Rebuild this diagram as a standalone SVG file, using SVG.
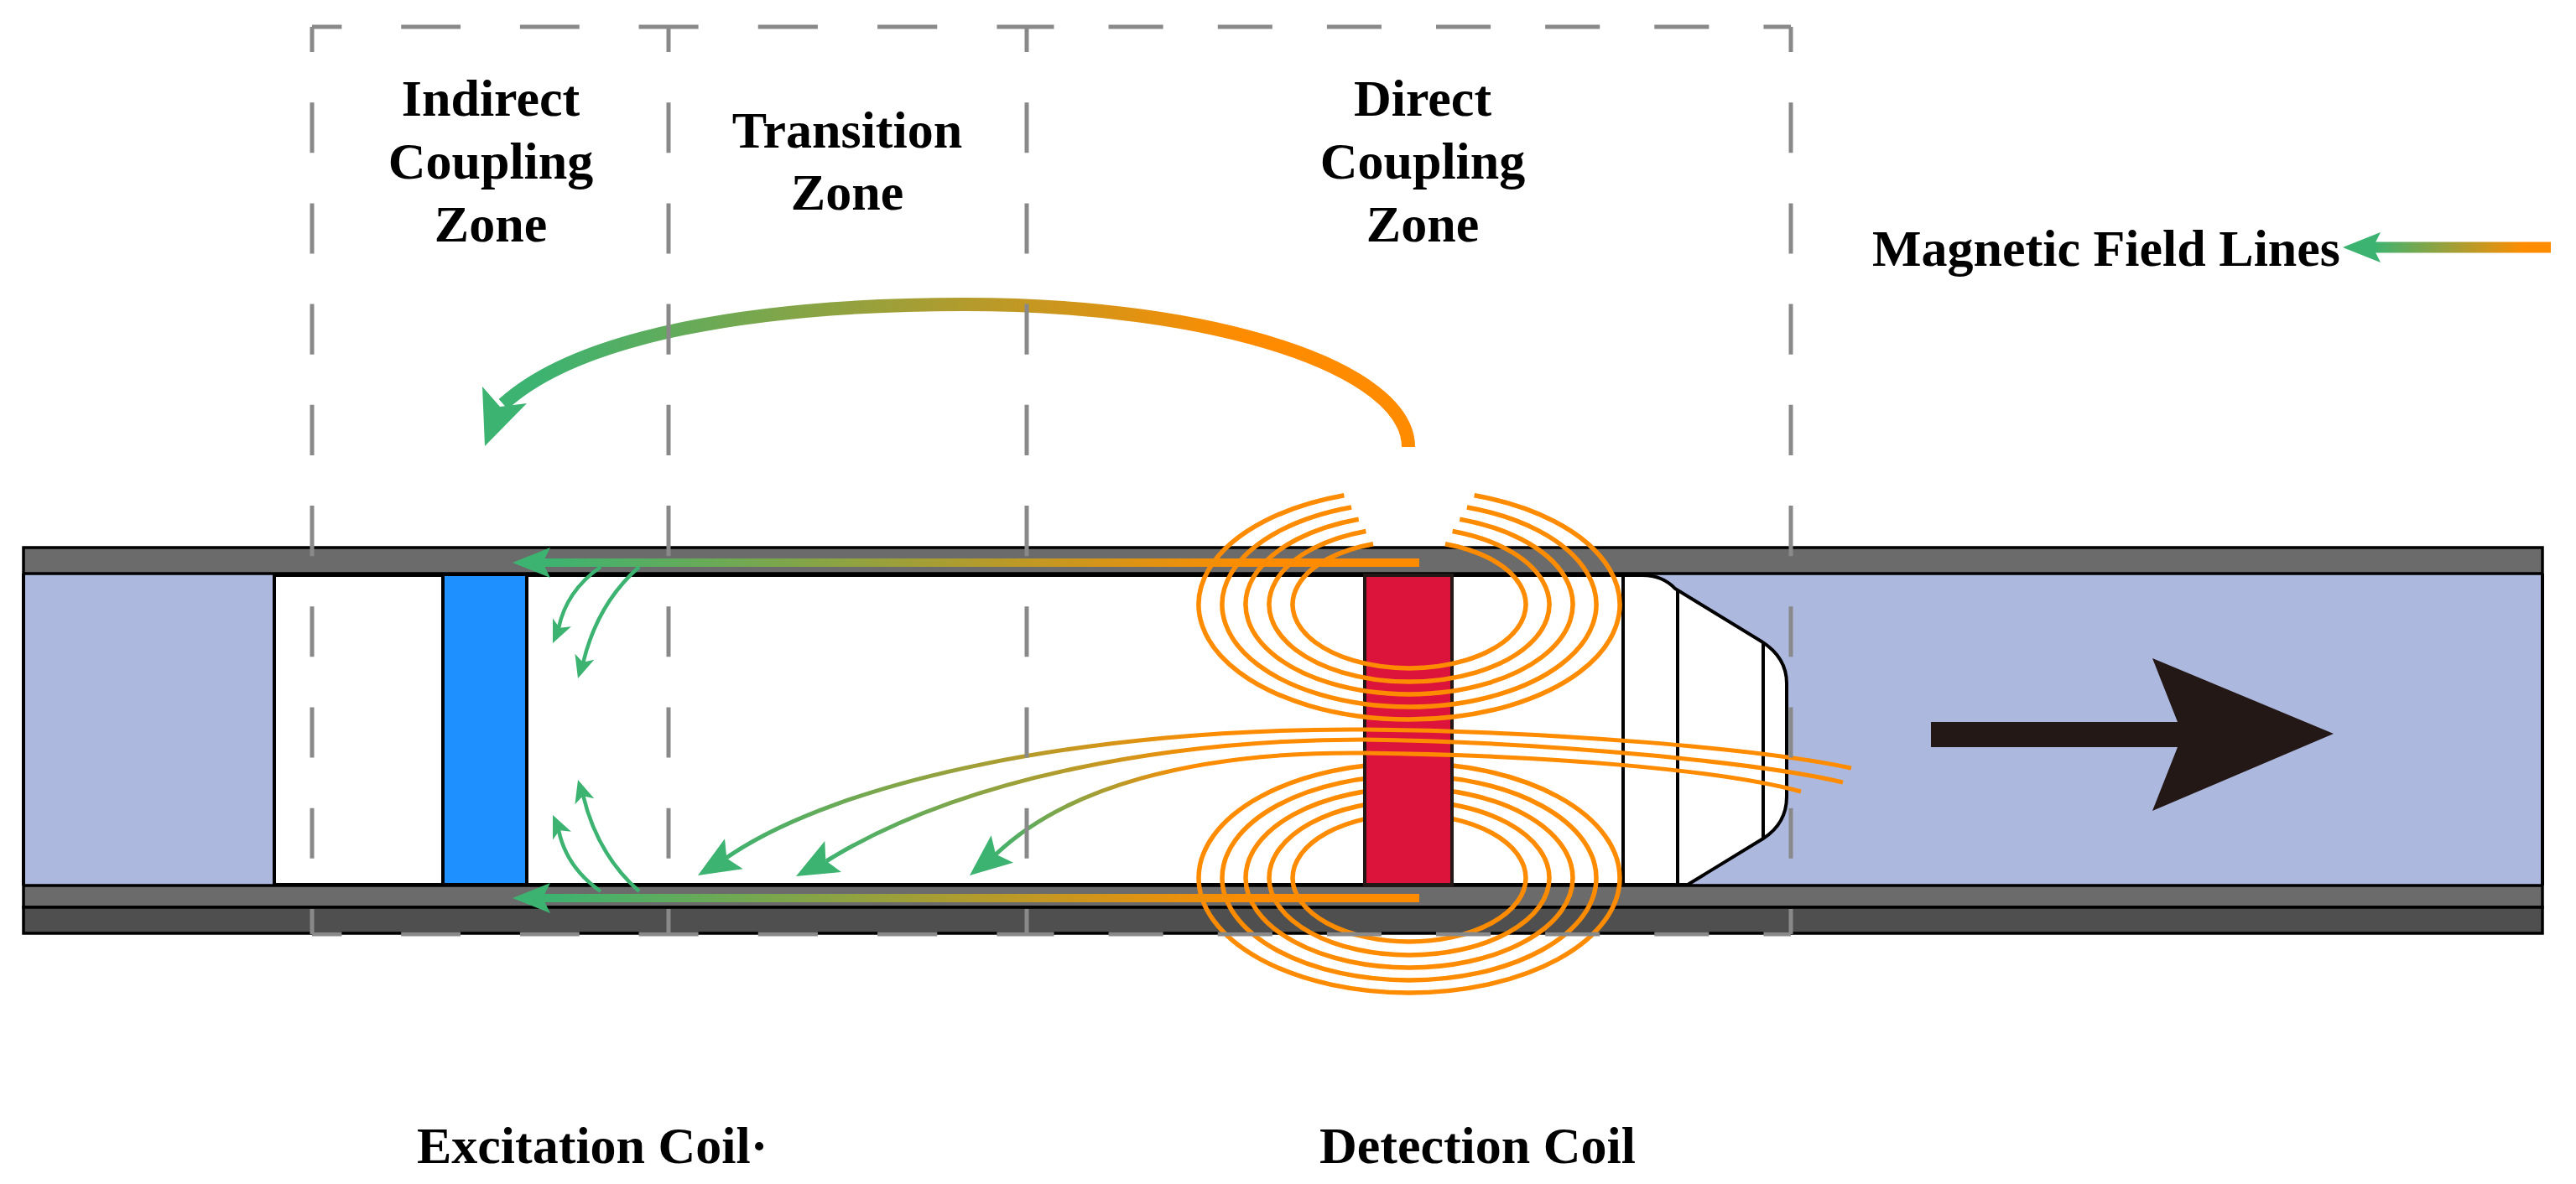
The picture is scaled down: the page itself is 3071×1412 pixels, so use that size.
<svg xmlns="http://www.w3.org/2000/svg" width="3071" height="1412" viewBox="0 0 3071 1412">
  <style>
    .lbl { font-family: "Liberation Serif", "Times New Roman", serif; font-weight: bold; font-size: 62px; fill: #000; }
    .wall { fill: #6b6b6b; stroke: #000; stroke-width: 3.5; }
    .wall2 { fill: #4f4f4f; stroke: #000; stroke-width: 3.5; }
    .edge { fill: none; stroke: #000; stroke-width: 4; }
    .fl { fill: none; stroke: #ff8c00; stroke-width: 5.5; }
    .gr { fill: none; stroke: #3cb371; stroke-width: 4.5; }
    .dash { fill: none; stroke: #898989; stroke-width: 5; }
    .head { fill: #3cb371; }
  </style>
  <defs>
    <linearGradient id="gWall" gradientUnits="userSpaceOnUse" x1="650" y1="0" x2="1500" y2="0">
      <stop offset="0" stop-color="#3cb371"/><stop offset="1" stop-color="#ff8c00"/>
    </linearGradient>
    <linearGradient id="gArc" gradientUnits="userSpaceOnUse" x1="640" y1="0" x2="1480" y2="0">
      <stop offset="0" stop-color="#3cb371"/><stop offset="1" stop-color="#ff8c00"/>
    </linearGradient>
    <linearGradient id="gC1" gradientUnits="userSpaceOnUse" x1="860" y1="0" x2="1450" y2="0">
      <stop offset="0" stop-color="#3cb371"/><stop offset="1" stop-color="#ff8c00"/>
    </linearGradient>
    <linearGradient id="gC2" gradientUnits="userSpaceOnUse" x1="980" y1="0" x2="1450" y2="0">
      <stop offset="0" stop-color="#3cb371"/><stop offset="1" stop-color="#ff8c00"/>
    </linearGradient>
    <linearGradient id="gC3" gradientUnits="userSpaceOnUse" x1="1180" y1="0" x2="1420" y2="0">
      <stop offset="0" stop-color="#3cb371"/><stop offset="1" stop-color="#ff8c00"/>
    </linearGradient>
    <linearGradient id="gLeg" gradientUnits="userSpaceOnUse" x1="2830" y1="0" x2="3010" y2="0">
      <stop offset="0" stop-color="#3cb371"/><stop offset="1" stop-color="#ff8c00"/>
    </linearGradient>
    <path id="headL" d="M0,0 L-45,-18 L-36,0 L-45,18 Z"/>
    <path id="headM" d="M0,0 L-50,-21 L-40,0 L-50,21 Z"/>
    <path id="headS" d="M0,0 L-27,-12 L-20,0 L-27,12 Z"/>
  </defs>

  <g id="pipe">
    <rect x="28" y="684" width="3003" height="373" fill="#adb8de"/>
    <rect class="wall" x="28" y="653" width="3003" height="31"/>
    <rect class="wall" x="28" y="1056" width="3003" height="26"/>
    <rect class="wall2" x="28" y="1082" width="3003" height="31"/>
    <line class="edge" x1="28" y1="684" x2="28" y2="1056"/>
    <line class="edge" x1="3031" y1="684" x2="3031" y2="1056"/>
  </g>

  <g id="probe">
    <path d="M327,686 L1958,686 Q1982,686 1997,702 L2100,765 Q2130,784 2130,815 L2130,950 Q2130,982 2102,1000 L2012,1055 L327,1055 Z" fill="#fff" stroke="#000" stroke-width="4"/>
    <line class="edge" x1="1935" y1="686" x2="1935" y2="1055"/>
    <line class="edge" x1="2000" y1="704" x2="2000" y2="1055"/>
    <line class="edge" x1="2102" y1="766" x2="2102" y2="999"/>
  </g>

  <g id="excitation-coil">
    <rect x="528" y="685" width="100" height="370" fill="#1e90ff" stroke="#000" stroke-width="4"/>
  </g>

  <g id="lower-field">
    <ellipse class="fl" cx="1680" cy="1047" rx="139" ry="76"/>
    <ellipse class="fl" cx="1680" cy="1047" rx="167" ry="92"/>
    <ellipse class="fl" cx="1680" cy="1047" rx="195" ry="107"/>
    <ellipse class="fl" cx="1680" cy="1047" rx="223" ry="122"/>
    <ellipse class="fl" cx="1680" cy="1047" rx="251" ry="137"/>
  </g>

  <g id="detection-coil">
    <rect x="1627" y="686" width="104" height="369" fill="#dc143c" stroke="#231815" stroke-width="4"/>
  </g>

  <g id="connectors">
    <!-- upper field loops -->
    <path class="fl" d="M1722.95,648.7 A139,76 0 1 1 1637.05,648.7"/>
    <path class="fl" d="M1731.6,633.5 A167,92 0 1 1 1628.4,633.5"/>
    <path class="fl" d="M1740.3,619.2 A195,107 0 1 1 1619.7,619.2"/>
    <path class="fl" d="M1748.9,605 A223,122 0 1 1 1611.1,605"/>
    <path class="fl" d="M1757.6,590.7 A251,137 0 1 1 1602.4,590.7"/>

    <!-- through field lines -->
    <path fill="none" stroke="url(#gC1)" stroke-width="5" d="M2207,916 C2100,893 1850,872 1627,870 C1300,868 1000,930 866,1023"/>
    <use href="#headM" class="head" transform="translate(832,1044) rotate(149)"/>
    <path fill="none" stroke="url(#gC2)" stroke-width="5" d="M2197,933 C2100,910 1850,885 1627,882 C1400,882 1150,925 985,1027"/>
    <use href="#headM" class="head" transform="translate(949,1045) rotate(152)"/>
    <path fill="none" stroke="url(#gC3)" stroke-width="5" d="M2147,944 C2050,918 1850,901 1627,898 C1420,896 1270,940 1187,1019"/>
    <use href="#headM" class="head" transform="translate(1156,1044) rotate(141)"/>

    <!-- wall lines -->
    <line x1="1692" y1="671" x2="646" y2="671" stroke="url(#gWall)" stroke-width="10"/>
    <use href="#headL" class="head" transform="translate(611,671) rotate(180)"/>
    <line x1="1692" y1="1071" x2="646" y2="1071" stroke="url(#gWall)" stroke-width="10"/>
    <use href="#headL" class="head" transform="translate(611,1071) rotate(180)"/>

    <!-- small curved arrows near excitation coil -->
    <path class="gr" d="M716,676 Q675,705 666,749"/>
    <use href="#headS" class="head" transform="translate(659,767) rotate(114)"/>
    <path class="gr" d="M762,676 Q712,720 695,791"/>
    <use href="#headS" class="head" transform="translate(689,809) rotate(107)"/>
    <path class="gr" d="M716,1063 Q675,1034 666,990"/>
    <use href="#headS" class="head" transform="translate(659,972) rotate(-114)"/>
    <path class="gr" d="M762,1063 Q712,1019 695,948"/>
    <use href="#headS" class="head" transform="translate(689,930) rotate(-107)"/>

    <!-- big arc -->
    <path fill="none" stroke="url(#gArc)" stroke-width="16" d="M1679,533 C1679,440 1450,363 1150,363 C900,363 690,400 600,482"/>
    <polygon class="head" points="578,532 575,461 596,485 628,481"/>
  </g>

  <g id="legend">
    <line x1="3041" y1="295" x2="2828" y2="295" stroke="url(#gLeg)" stroke-width="13"/>
    <use href="#headL" class="head" transform="translate(2793,295) rotate(180)"/>
    <text class="lbl" x="2790" y="317" text-anchor="end">Magnetic Field Lines</text>
  </g>

  <g id="zones">
    <line class="dash" x1="372" y1="32" x2="372" y2="1114" stroke-dasharray="60.11 60.11" stroke-dashoffset="30.06"/>
    <line class="dash" x1="797" y1="32" x2="797" y2="1114" stroke-dasharray="60.11 60.11" stroke-dashoffset="30.06"/>
    <line class="dash" x1="1224" y1="32" x2="1224" y2="1114" stroke-dasharray="60.11 60.11" stroke-dashoffset="30.06"/>
    <line class="dash" x1="2135" y1="32" x2="2135" y2="1114" stroke-dasharray="60.11 60.11" stroke-dashoffset="30.06"/>
    <line class="dash" x1="372" y1="32" x2="797" y2="32" stroke-dasharray="70.83 70.83" stroke-dashoffset="35.42"/>
    <line class="dash" x1="797" y1="32" x2="1224" y2="32" stroke-dasharray="71.17 71.17" stroke-dashoffset="35.58"/>
    <line class="dash" x1="1224" y1="32" x2="2135" y2="32" stroke-dasharray="65.07 65.07" stroke-dashoffset="32.54"/>
    <line class="dash" x1="372" y1="1114" x2="797" y2="1114" stroke-dasharray="70.83 70.83" stroke-dashoffset="35.42"/>
    <line class="dash" x1="797" y1="1114" x2="1224" y2="1114" stroke-dasharray="71.17 71.17" stroke-dashoffset="35.58"/>
    <line class="dash" x1="1224" y1="1114" x2="2135" y2="1114" stroke-dasharray="65.07 65.07" stroke-dashoffset="32.54"/>
  </g>

  <g id="zone-indirect">
    <text class="lbl" text-anchor="middle"><tspan x="585" y="138">Indirect</tspan><tspan x="585" y="213">Coupling</tspan><tspan x="585" y="288">Zone</tspan></text>
  </g>
  <g id="zone-transition">
    <text class="lbl" text-anchor="middle"><tspan x="1010" y="176">Transition</tspan><tspan x="1010" y="250">Zone</tspan></text>
  </g>
  <g id="zone-direct">
    <text class="lbl" text-anchor="middle"><tspan x="1696" y="138">Direct</tspan><tspan x="1696" y="213">Coupling</tspan><tspan x="1696" y="288">Zone</tspan></text>
  </g>

  <g id="motion-arrow">
    <polygon points="2302,861 2596,861 2566,785 2782,875 2566,967 2596,891 2302,891" fill="#231815"/>
  </g>

  <g id="labels">
    <text class="lbl" x="497" y="1387">Excitation Coil·</text>
    <text class="lbl" x="1573" y="1387">Detection Coil</text>
  </g>
</svg>
